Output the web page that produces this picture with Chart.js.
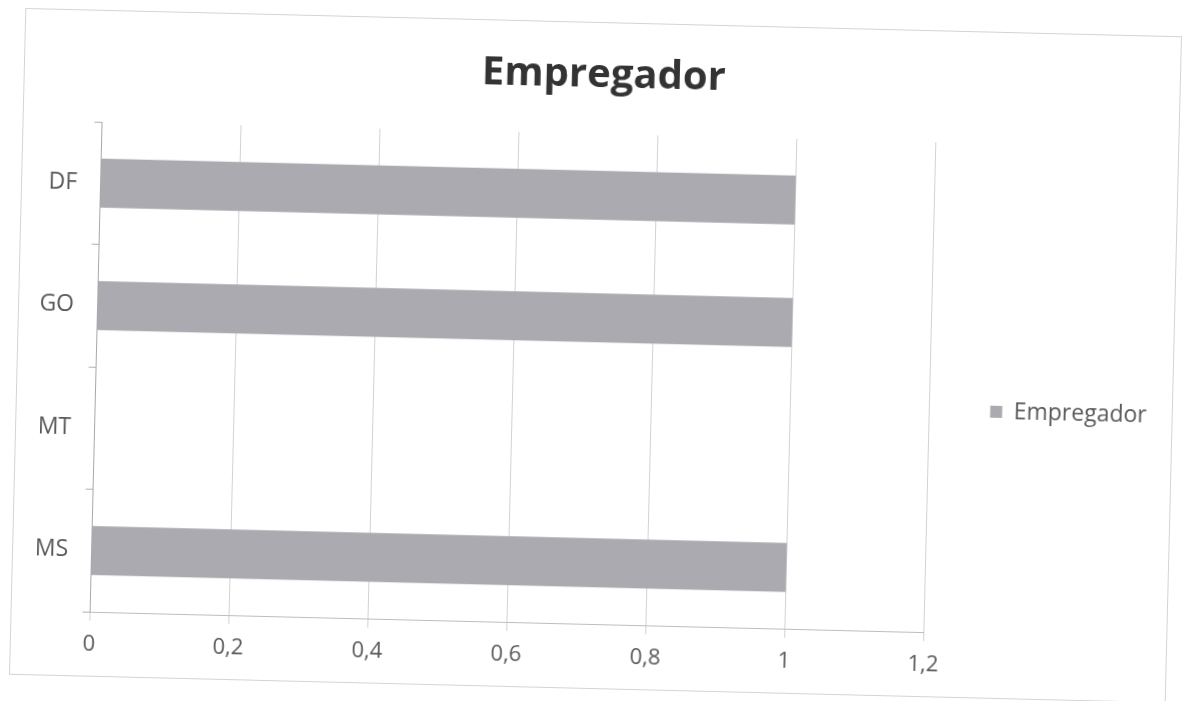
<!DOCTYPE html>
<html lang="en">
<head>
  <meta charset="UTF-8" />
  <title>Empregador</title>
  <script src="https://cdn.jsdelivr.net/npm/chart.js"></script>
  <style>
    html, body { margin: 0; padding: 0; background: #fff; overflow: hidden; }
    #frame {
      position: absolute;
      left: 17px; top: 22px;
      width: 1155px; height: 665px;
      border: 1px solid #d4d4d4;
      transform: rotate(1.4deg);
      background: #fff;
    }
  </style>
</head>
<body>
  <div id="frame">
    <canvas id="chart" width="1155" height="665"></canvas>
  </div>

  <script>
    // estados e valores
    const estados = ['DF', 'GO', 'MT', 'MS'];
    const empregador = [1, 1, 0, 1];
    const xTicks = [0, 0.2, 0.4, 0.6, 0.8, 1, 1.2];

    const fontFamily = '"Open Sans", "Liberation Sans", sans-serif';

    // nudges title and legend to where Excel put them
    const boxShift = {
      id: 'boxShift',
      afterLayout(chart) {
        const lg = chart.legend;
        lg.top += 32;
        lg.bottom += 32;
        const t = chart.titleBlock;
        t.left += 9;
        t.right += 9;
      }
    };

    new Chart(document.getElementById('chart'), {
      type: 'bar',
      data: {
        labels: estados,
        datasets: [{
          label: 'Empregador',
          data: empregador,
          backgroundColor: '#aaaab0',
          borderWidth: 0,
          barPercentage: 0.4,
          categoryPercentage: 1
        }]
      },
      options: {
        indexAxis: 'y',
        responsive: false,
        animation: false,
        layout: { padding: { left: 0, right: 15, top: 29, bottom: 0 } },
        plugins: {
          title: {
            display: true,
            text: 'Empregador',
            color: '#333333',
            font: { family: fontFamily, size: 40, weight: 'bold' },
            padding: { top: 0, bottom: 34 }
          },
          legend: {
            position: 'right',
            labels: {
              boxWidth: 12,
              boxHeight: 12,
              padding: 61,
              color: '#595959',
              font: { family: fontFamily, size: 23 }
            }
          },
          tooltip: { enabled: false }
        },
        scales: {
          x: {
            min: 0,
            max: 1.2,
            afterBuildTicks: (scale) => {
              scale.ticks = xTicks.map(v => ({ value: v }));
            },
            afterFit: (scale) => { scale.height = 64; },
            ticks: {
              color: '#595959',
              padding: 11,
              font: { family: fontFamily, size: 22 },
              callback: (v) => String(v).replace('.', ',')
            },
            grid: {
              color: '#d2d2d2',
              lineWidth: 1,
              tickLength: 9
            },
            border: { color: '#bdbdbd', width: 1 }
          },
          y: {
            afterFit: (scale) => { scale.width = 78; },
            ticks: {
              color: '#595959',
              padding: 16,
              font: { family: fontFamily, size: 23 }
            },
            grid: {
              offset: true,
              drawOnChartArea: false,
              color: '#b0b0b0',
              tickLength: 7
            },
            border: { color: '#a8a8a8', width: 1 }
          }
        }
      },
      plugins: [boxShift]
    });
  </script>
</body>
</html>
